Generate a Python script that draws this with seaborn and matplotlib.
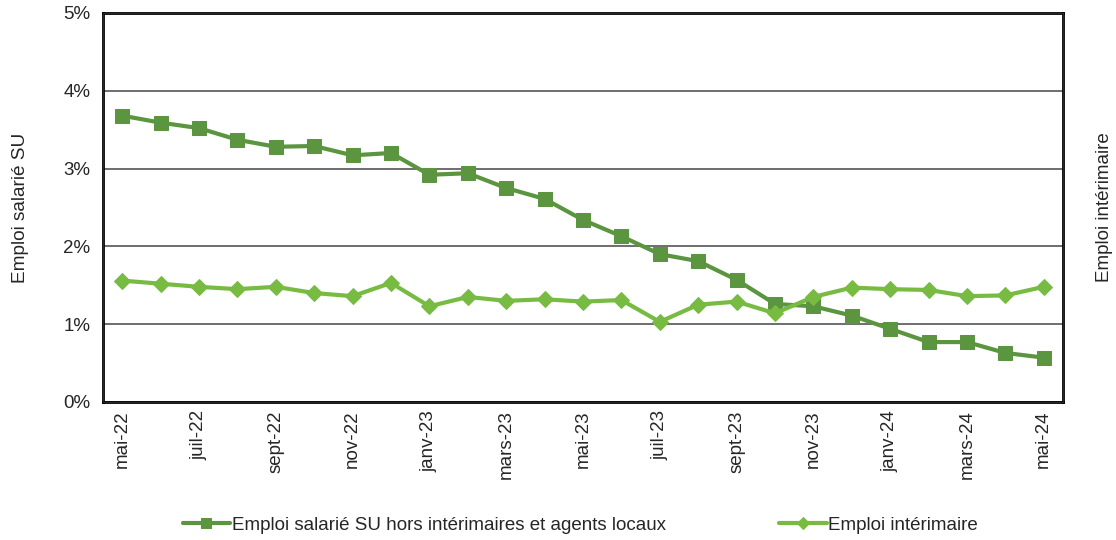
import seaborn as sns
import matplotlib.pyplot as plt
from matplotlib.ticker import FuncFormatter
import pandas as pd

# Monthly data, mai-22 to mai-24
months = ['mai-22', 'juin-22', 'juil-22', 'août-22', 'sept-22', 'oct-22', 'nov-22', 'déc-22',
          'janv-23', 'févr-23', 'mars-23', 'avr-23', 'mai-23', 'juin-23', 'juil-23', 'août-23',
          'sept-23', 'oct-23', 'nov-23', 'déc-23', 'janv-24', 'févr-24', 'mars-24', 'avr-24', 'mai-24']

emploi_su = [3.68, 3.59, 3.52, 3.37, 3.28, 3.29, 3.17, 3.20, 2.92, 2.94, 2.75, 2.61, 2.34,
             2.13, 1.90, 1.81, 1.57, 1.26, 1.23, 1.11, 0.94, 0.77, 0.77, 0.63, 0.57]
emploi_interim = [1.56, 1.52, 1.48, 1.45, 1.48, 1.40, 1.36, 1.53, 1.23, 1.35, 1.30, 1.32, 1.29,
                  1.31, 1.03, 1.25, 1.29, 1.14, 1.35, 1.47, 1.45, 1.44, 1.36, 1.37, 1.48]

label_su = 'Emploi salarié SU hors intérimaires et agents locaux'
label_interim = 'Emploi intérimaire'

df = pd.DataFrame({'idx': range(len(months)), 'su': emploi_su, 'interim': emploi_interim})

sns.set_style('white')
plt.rcParams['font.family'] = ['Liberation Sans', 'DejaVu Sans']

fig = plt.figure(figsize=(11.16, 5.4), dpi=100)
ax = fig.add_axes([0.0923, 0.2556, 0.8602, 0.7204])

sns.lineplot(data=df, x='idx', y='su', ax=ax, color='#5b9540', linewidth=3,
             marker='s', markersize=10.5, markeredgecolor='#5b9540', label=label_su)
sns.lineplot(data=df, x='idx', y='interim', ax=ax, color='#78bb42', linewidth=3,
             marker='D', markersize=8.5, markeredgecolor='#78bb42', label=label_interim)

ax.set_ylim(0, 5)
ax.set_xlim(-0.5, len(months) - 0.5)
ax.set_yticks([0, 1, 2, 3, 4, 5])
ax.yaxis.set_major_formatter(FuncFormatter(lambda v, p: f'{v:.0f}%'))
ax.set_xticks(range(0, len(months), 2))
ax.set_xticklabels(months[::2], rotation=90)
ax.tick_params(axis='x', length=0, labelsize=13.5, pad=6)
ax.tick_params(axis='y', length=0, labelsize=13.5, pad=9)
ax.grid(axis='y', color='#555555', linewidth=1.2)
ax.set_axisbelow(True)
for s in ax.spines.values():
    s.set_color('black')
    s.set_linewidth(2)

ax.set_xlabel('')
ax.set_ylabel('Emploi salarié SU', fontsize=13.7, labelpad=25)
ax2 = ax.twinx()
ax2.set_yticks([])
ax2.set_ylabel('Emploi intérimaire', fontsize=13.5, labelpad=24)

ax.get_legend().remove()
handles, labels = ax.get_legend_handles_labels()
fig.legend(handles, labels, loc='lower center', bbox_to_anchor=(0.52, -0.02), ncol=2,
           frameon=False, columnspacing=6.0, handlelength=2.55, handletextpad=0.1,
           markerscale=0.7, prop={'size': 13.5})

fig.savefig('out.png', dpi=100)
